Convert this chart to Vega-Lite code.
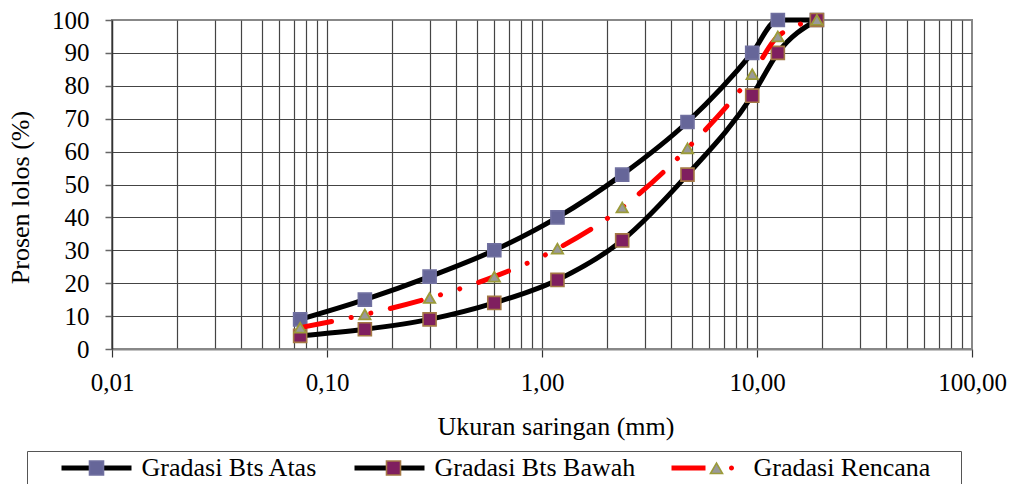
{
  "$schema": "https://vega.github.io/schema/vega-lite/v6.json",
  "width": 860,
  "height": 329,
  "autosize": {"type": "none"},
  "padding": {"left": 112, "top": 20, "right": 39, "bottom": 135},
  "background": "#ffffff",
  "config": {
    "view": {"stroke": "#888888", "strokeWidth": 2},
    "font": "Liberation Serif, Times New Roman, serif",
    "axis": {"labelFont": "Liberation Serif, Times New Roman, serif", "titleFont": "Liberation Serif, Times New Roman, serif", "labelColor": "#000000", "titleColor": "#000000", "titleFontWeight": "normal"},
    "legend": {"labelFont": "Liberation Serif, Times New Roman, serif", "titleFont": "Liberation Serif, Times New Roman, serif"}
  },
  "data": {
    "values": [
      {"series": "Gradasi Bts Atas", "size": 0.075, "pct": 9},
      {"series": "Gradasi Bts Atas", "size": 0.15, "pct": 15},
      {"series": "Gradasi Bts Atas", "size": 0.3, "pct": 22},
      {"series": "Gradasi Bts Atas", "size": 0.6, "pct": 30},
      {"series": "Gradasi Bts Atas", "size": 1.18, "pct": 40},
      {"series": "Gradasi Bts Atas", "size": 2.36, "pct": 53},
      {"series": "Gradasi Bts Atas", "size": 4.75, "pct": 69},
      {"series": "Gradasi Bts Atas", "size": 9.5, "pct": 90},
      {"series": "Gradasi Bts Atas", "size": 12.5, "pct": 100},
      {"series": "Gradasi Bts Atas", "size": 19, "pct": 100},
      {"series": "Gradasi Bts Bawah", "size": 0.075, "pct": 4},
      {"series": "Gradasi Bts Bawah", "size": 0.15, "pct": 6},
      {"series": "Gradasi Bts Bawah", "size": 0.3, "pct": 9},
      {"series": "Gradasi Bts Bawah", "size": 0.6, "pct": 14},
      {"series": "Gradasi Bts Bawah", "size": 1.18, "pct": 21},
      {"series": "Gradasi Bts Bawah", "size": 2.36, "pct": 33},
      {"series": "Gradasi Bts Bawah", "size": 4.75, "pct": 53},
      {"series": "Gradasi Bts Bawah", "size": 9.5, "pct": 77},
      {"series": "Gradasi Bts Bawah", "size": 12.5, "pct": 90},
      {"series": "Gradasi Bts Bawah", "size": 19, "pct": 100},
      {"series": "Gradasi Rencana", "size": 0.075, "pct": 6.5},
      {"series": "Gradasi Rencana", "size": 0.15, "pct": 10.5},
      {"series": "Gradasi Rencana", "size": 0.3, "pct": 15.5},
      {"series": "Gradasi Rencana", "size": 0.6, "pct": 22},
      {"series": "Gradasi Rencana", "size": 1.18, "pct": 30.5},
      {"series": "Gradasi Rencana", "size": 2.36, "pct": 43},
      {"series": "Gradasi Rencana", "size": 4.75, "pct": 61},
      {"series": "Gradasi Rencana", "size": 9.5, "pct": 83.5},
      {"series": "Gradasi Rencana", "size": 12.5, "pct": 95},
      {"series": "Gradasi Rencana", "size": 19, "pct": 100}
    ]
  },
  "encoding": {
    "x": {
      "field": "size",
      "type": "quantitative",
      "scale": {"type": "log", "domain": [0.01, 100], "nice": false},
      "axis": {
        "values": [0.01, 0.02, 0.03, 0.04, 0.05, 0.06, 0.07, 0.08, 0.09, 0.1, 0.2, 0.3, 0.4, 0.5, 0.6, 0.7, 0.8, 0.9, 1, 2, 3, 4, 5, 6, 7, 8, 9, 10, 20, 30, 40, 50, 60, 70, 80, 90, 100],
        "labelExpr": "(datum.value == 0.01 || datum.value == 0.1 || datum.value == 1 || datum.value == 10 || datum.value == 100) ? replace(format(datum.value, '.2f'), '.', ',') : ''",
        "labelOverlap": false,
        "labelFlush": false,
        "labelBound": false,
        "labelFontSize": 25,
        "labelPadding": 13,
        "tickSize": 8,
        "tickColor": "#333333",
        "tickWidth": 1.2,
        "tickOpacity": {"condition": {"test": "datum.value == 0.01 || datum.value == 0.1 || datum.value == 1 || datum.value == 10 || datum.value == 100", "value": 1}, "value": 0},
        "gridColor": "#444444",
        "gridWidth": 1.2,
        "gridOpacity": {"condition": {"test": "datum.value == 0.01 || datum.value == 100", "value": 0}, "value": 1},
        "domainColor": "#888888",
        "domainWidth": 2,
        "title": "Ukuran saringan (mm)",
        "titleFontSize": 26,
        "titleX": 443.5,
        "titleY": 85,
        "titleBaseline": "alphabetic"
      }
    },
    "y": {
      "field": "pct",
      "type": "quantitative",
      "scale": {"domain": [0, 100], "nice": false},
      "axis": {
        "values": [0, 10, 20, 30, 40, 50, 60, 70, 80, 90, 100],
        "labelFontSize": 25,
        "labelPadding": 16,
        "tickSize": 7,
        "tickColor": "#666666",
        "tickWidth": 1.5,
        "domainColor": "#333333",
        "domainWidth": 1.5,
        "gridColor": "#444444",
        "gridWidth": 1.2,
        "gridOpacity": {"condition": {"test": "datum.value == 0 || datum.value == 100", "value": 0}, "value": 1},
        "title": "Prosen lolos (%)",
        "titleFontSize": 26,
        "titleX": -84,
        "titleY": 177,
        "titleBaseline": "alphabetic"
      }
    }
  },
  "layer": [
    {
      "transform": [{"filter": "datum.series != 'Gradasi Rencana'"}],
      "mark": {"type": "line", "interpolate": "monotone", "stroke": "#000000", "strokeWidth": 5, "strokeCap": "round"},
      "encoding": {"detail": {"field": "series"}}
    },
    {
      "transform": [{"filter": "datum.series != 'Gradasi Rencana'"}],
      "mark": {"type": "point", "shape": "square", "filled": true, "size": 170, "strokeWidth": 1.6, "opacity": 1},
      "encoding": {
        "fill": {"field": "series", "scale": {"domain": ["Gradasi Bts Atas", "Gradasi Bts Bawah"], "range": ["#666699", "#7f1f5f"]}, "legend": null},
        "stroke": {"field": "series", "scale": {"domain": ["Gradasi Bts Atas", "Gradasi Bts Bawah"], "range": ["#7070a0", "#a57845"]}, "legend": null}
      }
    },
    {
      "transform": [{"filter": "datum.series == 'Gradasi Rencana'"}],
      "mark": {"type": "line", "interpolate": "monotone", "stroke": "#ff0000", "strokeWidth": 5, "strokeCap": "round", "strokeDash": [32, 20, 0.1, 20, 0.1, 20]},
      "encoding": {}
    },
    {
      "transform": [{"filter": "datum.series == 'Gradasi Rencana'"}],
      "mark": {"type": "point", "shape": "triangle-up", "filled": true, "size": 130, "fill": "#999999", "stroke": "#9b9b3a", "strokeWidth": 1.8, "opacity": 1},
      "encoding": {}
    },
    {
      "mark": {"type": "point", "filled": true, "opacity": 0, "strokeWidth": 0},
      "encoding": {
        "shape": {
          "field": "series",
          "scale": {
            "domain": ["Gradasi Bts Atas", "Gradasi Bts Bawah", "Gradasi Rencana"],
            "range": [
              "M-3.5,-0.25H3.5V0.25H-3.5Z",
              "M-3.5,-0.25H3.5V0.25H-3.5Z",
              "M-3.7,-0.25H-0.3V0.25H-3.7Z M2.05,0A0.25,0.25 0 1,0 2.55,0A0.25,0.25 0 1,0 2.05,0Z"
            ]
          },
          "legend": {
            "orient": "none", "legendX": -85, "legendY": 431, "direction": "horizontal", "columns": 3,
            "title": "\u00a0", "titleOrient": "left", "titleFontSize": 26, "titlePadding": 52.5,
            "padding": 4, "strokeColor": "#555555",
            "symbolSize": 400, "symbolStrokeWidth": 0, "symbolOpacity": 1,
            "labelFontSize": 26, "labelOffset": 32, "labelLimit": 400, "labelColor": "#000000",
            "columnPadding": 36,
            "labelExpr": "datum.label == 'Gradasi Rencana' ? datum.label + '\u00a0\u00a0\u00a0\u00a0\u200b' : datum.label"
          }
        },
        "fill": {
          "field": "series",
          "scale": {"domain": ["Gradasi Bts Atas", "Gradasi Bts Bawah", "Gradasi Rencana"], "range": ["#000000", "#000000", "#ff0000"]},
          "legend": {
            "orient": "none", "legendX": -85, "legendY": 431, "direction": "horizontal", "columns": 3,
            "title": "\u00a0", "titleOrient": "left", "titleFontSize": 26, "titlePadding": 52.5,
            "padding": 4, "strokeColor": "#555555",
            "symbolSize": 400, "symbolStrokeWidth": 0, "symbolOpacity": 1,
            "labelFontSize": 26, "labelOffset": 32, "labelLimit": 400, "labelColor": "#000000",
            "columnPadding": 36,
            "labelExpr": "datum.label == 'Gradasi Rencana' ? datum.label + '\u00a0\u00a0\u00a0\u00a0\u200b' : datum.label"
          }
        }
      }
    },
    {
      "mark": {"type": "point", "filled": true, "opacity": 0, "strokeWidth": 0},
      "encoding": {
        "shape": {
          "field": "series",
          "scale": {
            "domain": ["Gradasi Bts Atas", "Gradasi Bts Bawah", "Gradasi Rencana"],
            "range": [
              "M-0.7,-0.7H0.7V0.7H-0.7Z M-3.5,0L-3.5,0 M3.5,0L3.5,0",
              "M-0.7,-0.7H0.7V0.7H-0.7Z M-3.5,0L-3.5,0 M3.5,0L3.5,0",
              "M-0.6,0.55L0,-0.5L0.6,0.55Z M-3.7,0L-3.7,0 M2.55,0L2.55,0"
            ]
          },
          "legend": {
            "orient": "none", "legendX": -85, "legendY": 431, "direction": "horizontal", "columns": 3,
            "title": "\u00a0", "titleOrient": "left", "titleFontSize": 26, "titlePadding": 52.5,
            "padding": 4,
            "symbolSize": 400, "symbolStrokeWidth": 1.6, "symbolOpacity": 1,
            "labelFontSize": 26, "labelOffset": 32, "labelLimit": 400, "labelOpacity": 0,
            "columnPadding": 36
          }
        },
        "fill": {
          "field": "series",
          "scale": {"domain": ["Gradasi Bts Atas", "Gradasi Bts Bawah", "Gradasi Rencana"], "range": ["#666699", "#7f1f5f", "#999999"]},
          "legend": {
            "orient": "none", "legendX": -85, "legendY": 431, "direction": "horizontal", "columns": 3,
            "title": "\u00a0", "titleOrient": "left", "titleFontSize": 26, "titlePadding": 52.5,
            "padding": 4,
            "symbolSize": 400, "symbolStrokeWidth": 1.6, "symbolOpacity": 1,
            "labelFontSize": 26, "labelOffset": 32, "labelLimit": 400, "labelOpacity": 0,
            "columnPadding": 36
          }
        },
        "stroke": {
          "field": "series",
          "scale": {"domain": ["Gradasi Bts Atas", "Gradasi Bts Bawah", "Gradasi Rencana"], "range": ["#7070a0", "#a57845", "#9b9b3a"]},
          "legend": {
            "orient": "none", "legendX": -85, "legendY": 431, "direction": "horizontal", "columns": 3,
            "title": "\u00a0", "titleOrient": "left", "titleFontSize": 26, "titlePadding": 52.5,
            "padding": 4,
            "symbolSize": 400, "symbolStrokeWidth": 1.6, "symbolOpacity": 1,
            "labelFontSize": 26, "labelOffset": 32, "labelLimit": 400, "labelOpacity": 0,
            "columnPadding": 36
          }
        }
      }
    }
  ],
  "resolve": {
    "scale": {"fill": "independent", "shape": "independent", "stroke": "independent"},
    "legend": {"fill": "independent", "shape": "independent", "stroke": "independent"}
  }
}
